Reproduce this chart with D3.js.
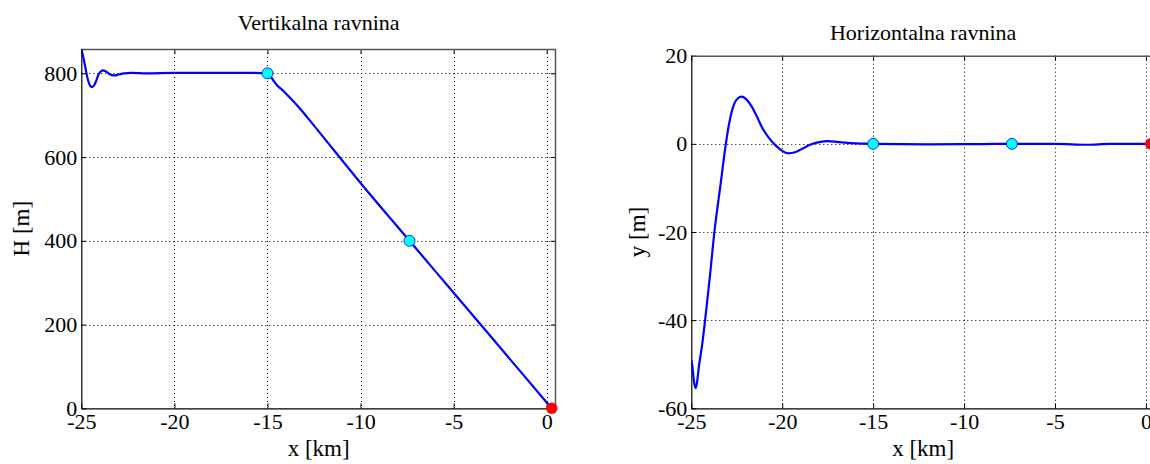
<!DOCTYPE html>
<html><head><meta charset="utf-8">
<script src="https://cdn.jsdelivr.net/npm/d3@7"></script>
<style>
body{margin:0;background:#fff;}
svg{display:block;}
text{font-family:"Liberation Serif","Times New Roman",serif;fill:#000;}
</style></head>
<body>
<svg id="c" width="1150" height="464"></svg>
<script>
// ---- data ----
const xTicks = [-25, -20, -15, -10, -5, 0];
const hTicks = [0, 200, 400, 600, 800];
const yTicks = [-60, -40, -20, 0, 20];

// Vertikalna ravnina: x [km], H [m]
const xV = [-25, -24.9, -24.8, -24.7, -24.6, -24.5, -24.41, -24.3, -24.2, -24.1, -24.0, -23.9, -23.85, -23.7, -23.5, -23.3, -23.19, -23.0, -22.7, -22.3, -21.5, -20, -18, -16, -15,
  -14.85, -14.7, -14.5, -14.2, -13.8, -13.26, -12.5, -10, -7.37, -5, -2.5, 0, 0.27];
const hV = [858, 840, 818, 795, 778, 769, 767.5, 772, 782, 794, 802, 806, 807, 805, 799, 795, 795, 797, 800, 801, 800, 801, 801, 801, 800,
  793, 784, 772, 760, 742, 716, 675, 538, 400, 276, 145, 14, 0];

// Horizontalna ravnina: x [km], y [m]
const xH = [-25, -24.94, -24.85, -24.76, -24.7, -24.58, -24.4, -24.24, -24.0, -23.73, -23.4, -23.1, -22.9, -22.7, -22.45, -22.23, -22.0, -21.7, -21.44, -21.04, -20.7, -20.35, -20.0, -19.67, -19.3, -18.9, -18.4, -17.9, -17.56, -17.0, -16.4, -15.5, -15, -12, -9, -7.37, -5, -3.2, -2, 0, 0.27];
const yH = [-49, -50.5, -54, -55.4, -54.5, -50.5, -45.5, -40, -31, -20, -9.5, 0, 5, 8.4, 10.3, 10.7, 10.2, 8.6, 6.6, 3.2, 1.2, -0.4, -1.6, -2.15, -1.9, -1.1, -0.1, 0.45, 0.6, 0.45, 0.2, 0.05, 0, -0.1, -0.05, 0, 0, -0.2, 0, 0, 0];

const vPoints = [[-15, 800], [-7.37, 400]];
const hPoints = [[-15, 0], [-7.37, 0]];
const endV = [0.27, 0];
const endH = [0.27, 0];

// ---- drawing ----
const svg = d3.select("#c");
const fmt = d => String(d);

function panel(o) {
  const x = d3.scaleLinear().domain(o.xDom).range([o.left, o.right]);
  const y = d3.scaleLinear().domain(o.yDom).range([o.bottom, o.top]);
  const g = svg.append("g");
  const clipId = "clip" + o.id;
  svg.append("clipPath").attr("id", clipId).append("rect")
    .attr("x", o.left).attr("y", o.top).attr("width", o.right - o.left).attr("height", o.bottom - o.top);

  // grid
  g.selectAll(".gx").data(o.xTicks.filter(t => x(t) > o.left + 1 && x(t) < o.right - 1)).enter().append("line")
    .attr("x1", d => Math.round(x(d)) + 0.5).attr("x2", d => Math.round(x(d)) + 0.5)
    .attr("y1", o.top).attr("y2", o.bottom)
    .attr("stroke", "#000").attr("stroke-width", 1).attr("stroke-dasharray", "1,3");
  g.selectAll(".gy").data(o.yTicks.filter(t => y(t) > o.top + 1 && y(t) < o.bottom - 1)).enter().append("line")
    .attr("y1", d => Math.round(y(d)) + 0.5).attr("y2", d => Math.round(y(d)) + 0.5)
    .attr("x1", o.left).attr("x2", o.right)
    .attr("stroke", "#000").attr("stroke-width", 1).attr("stroke-dasharray", "1,3");

  // axes (ticks inside)
  const ax = g.append("g").attr("transform", `translate(0,${o.bottom})`)
    .call(d3.axisBottom(x).tickValues(o.xTicks).tickSizeInner(-5).tickSizeOuter(0).tickPadding(5).tickFormat(fmt));
  const axT = g.append("g").attr("transform", `translate(0,${o.top})`)
    .call(d3.axisTop(x).tickValues(o.xTicks).tickSizeInner(-5).tickSizeOuter(0).tickFormat(""));
  const ay = g.append("g").attr("transform", `translate(${o.left},0)`)
    .call(d3.axisLeft(y).tickValues(o.yTicks).tickSizeInner(-5).tickSizeOuter(0).tickPadding(4).tickFormat(fmt));
  const ayR = g.append("g").attr("transform", `translate(${o.right},0)`)
    .call(d3.axisRight(y).tickValues(o.yTicks).tickSizeInner(-5).tickSizeOuter(0).tickFormat(""));
  [ax, axT, ay, ayR].forEach(a => {
    a.select(".domain").remove();
    a.selectAll("line").attr("stroke", "#000");
    a.selectAll("text").style("font-size", "22px").style("font-family", "Liberation Serif");
  });
  ax.selectAll("text").attr("dy", "0.71em");
  ay.selectAll("text").attr("dy", "0.32em");

  // box
  g.append("line").attr("x1", o.left).attr("x2", o.right).attr("y1", o.top + 0.5).attr("y2", o.top + 0.5).attr("stroke", "#555").attr("stroke-width", 1.5);
  g.append("line").attr("x1", o.right - 0.5).attr("x2", o.right - 0.5).attr("y1", o.top).attr("y2", o.bottom).attr("stroke", "#555").attr("stroke-width", 1.5);
  g.append("line").attr("x1", o.left).attr("x2", o.right).attr("y1", o.bottom + 0.5).attr("y2", o.bottom + 0.5).attr("stroke", "#000").attr("stroke-width", 1.2);
  g.append("line").attr("x1", o.left + 0.5).attr("x2", o.left + 0.5).attr("y1", o.top).attr("y2", o.bottom + 0.5).attr("stroke", "#000").attr("stroke-width", 1.2);

  // line
  const data = o.xs.map((v, i) => [v, o.ys[i]]);
  g.append("path").datum(data)
    .attr("clip-path", `url(#${clipId})`)
    .attr("fill", "none").attr("stroke", "#0000ff").attr("stroke-width", 2.2)
    .attr("stroke-linejoin", "round")
    .attr("d", d3.line().x(d => x(d[0])).y(d => y(d[1])).curve(d3.curveMonotoneX));

  // markers
  g.selectAll(".pt").data(o.pts).enter().append("circle")
    .attr("cx", d => x(d[0])).attr("cy", d => y(d[1])).attr("r", 5.5)
    .attr("fill", "#00ffff").attr("stroke", "#0000cc").attr("stroke-width", 0.8);
  g.append("circle").attr("cx", x(o.end[0])).attr("cy", y(o.end[1])).attr("r", 5.5)
    .attr("fill", "#ff0000").attr("stroke", "#ff0000").attr("stroke-width", 0.5);

  // title & labels
  const cx = (o.left + o.right) / 2;
  svg.append("text").attr("x", cx).attr("y", o.titleY).attr("text-anchor", "middle")
    .style("font-size", "22px").text(o.title);
  svg.append("text").attr("x", cx).attr("y", 456).attr("text-anchor", "middle")
    .style("font-size", "23px").text(o.xLabel);
  svg.append("text").attr("transform", `translate(${o.yLabelX},${(o.top + o.bottom) / 2}) rotate(-90)`)
    .attr("text-anchor", "middle").style("font-size", "23px").text(o.yLabel);
}

panel({id: "V", left: 81.3, right: 556, top: 49, bottom: 408.3, xDom: [-25, 0.5], yDom: [0, 858],
  xTicks: xTicks, yTicks: hTicks, xs: xV, ys: hV, pts: vPoints, end: endV,
  title: "Vertikalna ravnina", titleY: 30, xLabel: "x [km]", yLabel: "H [m]", yLabelX: 29});
panel({id: "H", left: 691.3, right: 1155, top: 55.7, bottom: 408.3, xDom: [-25, 0.5], yDom: [-60, 20],
  xTicks: xTicks, yTicks: yTicks, xs: xH, ys: yH, pts: hPoints, end: endH,
  title: "Horizontalna ravnina", titleY: 40, xLabel: "x [km]", yLabel: "y [m]", yLabelX: 645});
</script>
</body></html>
